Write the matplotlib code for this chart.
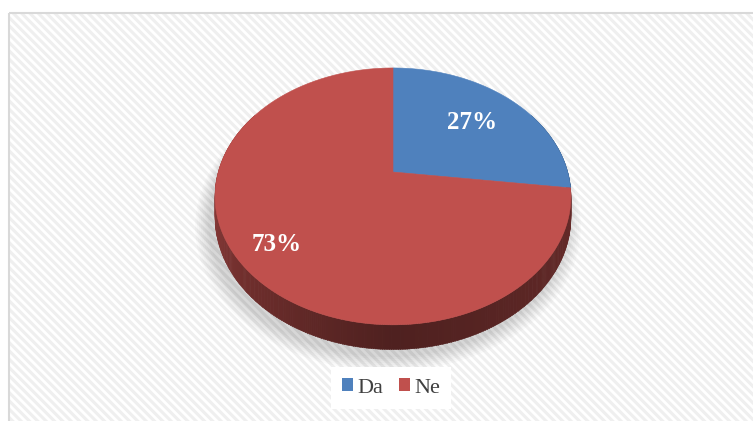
import numpy as np
import matplotlib
matplotlib.use("Agg")
import matplotlib.pyplot as plt
from matplotlib.patches import Polygon, Rectangle, Patch
import matplotlib.colors as mcolors

# ---- data ----
categories = ["Da", "Ne"]
values = [27, 73]
pct_labels = ["27%", "73%"]
colors = ["#4f81bd", "#c0504d"]

# ---- geometry / style (pixel space) ----
W, H = 753, 421
cx, cy = 393, 172
A, B, K, D = 174.7, 123.8, 0.19, 20.0
label_r = [0.65, 0.8]

plt.rcParams['hatch.linewidth'] = 2.2

fig = plt.figure(figsize=(W / 100, H / 100), dpi=100)
fig.patch.set_facecolor("white")
ax = fig.add_axes([0, 0, 1, 1])
ax.set_xlim(0, W)
ax.set_ylim(H, 0)
ax.axis("off")

# background with diagonal stripes and border
ax.add_patch(Rectangle((9, 13), W, H, facecolor="white", edgecolor="#efefef",
                       hatch="\\\\\\\\", linewidth=0, zorder=0))
ax.add_patch(Rectangle((9, 13), W + 10, H + 10, facecolor="none",
                       edgecolor="#d9d9d9", linewidth=1.5, zorder=0.5))


def proj(psi, r=1.0, drop=0.0):
    u = r * np.sin(psi)
    v = -r * np.cos(psi)
    s = 1.0 / (1.0 - K * v)
    return cx + A * u * s, cy + B * v * s + drop * s


# soft shadow (lower-left)
tt = np.linspace(0, 2 * np.pi, 300)
for i in range(8):
    grow = 1.0 + 0.01 * (8 - i)
    xs, ys = proj(tt, grow, D + 3)
    ax.add_patch(Polygon(np.column_stack([xs - 5, ys + 2]), closed=True,
                         facecolor="black", edgecolor="none", alpha=0.018, zorder=1))

fr = np.array(values, float) / sum(values)
bounds = np.concatenate([[0], np.cumsum(fr)]) * 2 * np.pi


def side_color(base, psi):
    rgb = np.array(mcolors.to_rgb(base))
    ang = np.degrees(psi)
    if ang <= 180:
        t = np.clip((ang - 90) / 90, 0, 1)
        f = 0.55 - 0.14 * t
    else:
        t = np.clip((ang - 180) / 90, 0, 1)
        f = 0.41 + 0.33 * t
    return tuple(rgb * f)


# side strips
psis = np.linspace(np.radians(60), np.radians(300), 400)
for p0, p1 in zip(psis[:-1], psis[1:]):
    pm = 0.5 * (p0 + p1)
    idx = np.searchsorted(bounds, pm % (2 * np.pi)) - 1
    idx = min(max(idx, 0), len(values) - 1)
    c = side_color(colors[idx], pm)
    x0, y0 = proj(p0)
    x1, y1 = proj(p1 + 0.003)
    x2, y2 = proj(p1 + 0.003, drop=D)
    x3, y3 = proj(p0, drop=D)
    ax.add_patch(Polygon([[x0, y0], [x1, y1], [x2, y2], [x3, y3]], closed=True,
                         facecolor=c, edgecolor=c, linewidth=0.3, zorder=2))

# top faces
for i in range(len(values)):
    ps = np.linspace(bounds[i], bounds[i + 1], 200)
    xs, ys = proj(ps)
    pts = np.vstack([[cx, cy], np.column_stack([xs, ys])])
    ax.add_patch(Polygon(pts, closed=True, facecolor=colors[i],
                         edgecolor=colors[i], linewidth=0.4, zorder=3))

# labels
for i, lab in enumerate(pct_labels):
    mid = 0.5 * (bounds[i] + bounds[i + 1])
    lx, ly = proj(mid, label_r[i])
    ax.text(lx, ly, lab, color="white", fontsize=18, fontweight="bold",
            family="Liberation Serif", ha="center", va="center", zorder=4)

# legend
handles = [Patch(facecolor=c, edgecolor="none") for c in colors]
leg = ax.legend(handles, categories, loc="center", bbox_to_anchor=(391 / W, 1 - 388 / H),
                bbox_transform=fig.transFigure, ncol=2, frameon=True, fancybox=False,
                prop={"family": "Liberation Serif", "size": 16},
                handlelength=0.5, handleheight=0.5, handletextpad=0.2,
                columnspacing=0.7, borderpad=0.5)
leg.get_frame().set_facecolor("white")
leg.get_frame().set_edgecolor("none")
leg.get_frame().set_alpha(1)
for t in leg.get_texts():
    t.set_color("#404040")

fig.savefig("out.png", dpi=100, facecolor="white")
